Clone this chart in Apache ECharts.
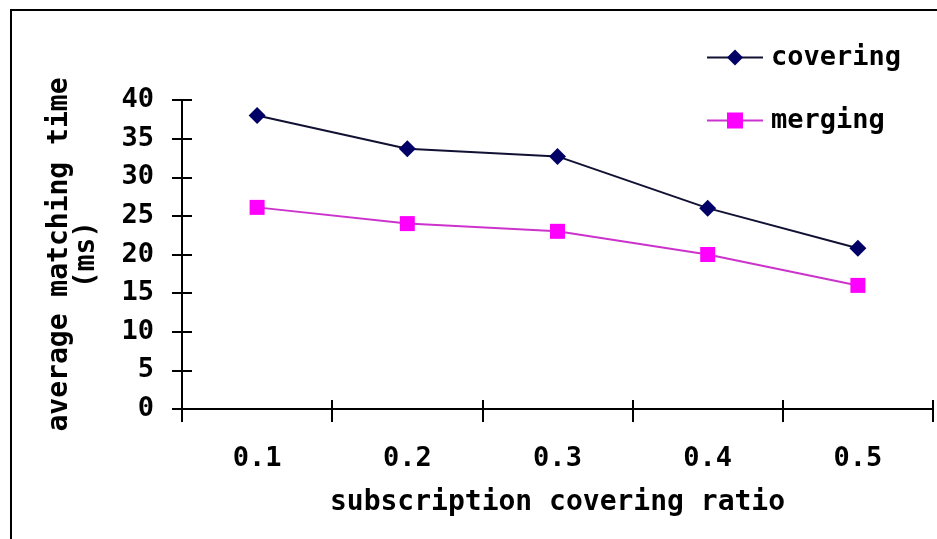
<!DOCTYPE html>
<html>
<head>
<meta charset="utf-8">
<script src="https://cdn.jsdelivr.net/npm/echarts@6/dist/echarts.min.js"></script>
<style>
  html, body { margin: 0; padding: 0; background: #fff; }
  #chart { width: 937px; height: 539px; }
</style>
</head>
<body>
<div id="chart"></div>
<script>
// Subscription covering ratio on the x axis
const categories = ['0.1', '0.2', '0.3', '0.4', '0.5'];
// Average matching time (ms) for each strategy
const coveringTimes = [38, 33.7, 32.7, 26, 20.8];
const mergingTimes = [26.1, 24, 23, 20, 16];
// Value axis range and step
const yMin = 0;
const yMax = 40;
const yStep = 5;

const FONT = 'DejaVu Sans Mono';
const textBase = { fontFamily: FONT, fontWeight: 'bold', color: '#000', fontSize: 27 };
const nameText = Object.assign({}, textBase, { fontSize: 28, lineHeight: 27 });

const GRID_W = 937 - 182 - 4;
const GRID_H = 539 - 100 - 130;

const chart = echarts.init(document.getElementById('chart'), null, { renderer: 'canvas' });

chart.setOption({
  backgroundColor: '#fff',
  animation: false,
  graphic: [{
    type: 'rect',
    z: -1,
    shape: { x: 11, y: 10, width: 960, height: 570 },
    style: { fill: 'none', stroke: '#000', lineWidth: 2 }
  }],
  grid: { left: 182, right: 4, top: 100, bottom: 130, containLabel: false },
  legend: {
    orient: 'vertical',
    left: 706,
    top: 44,
    padding: 0,
    itemWidth: 56,
    itemHeight: 20,
    itemGap: 36,
    textStyle: Object.assign({}, textBase, { lineHeight: 26, padding: [0, 0, 0, 3] }),
    data: ['covering', 'merging']
  },
  xAxis: [{
    type: 'category',
    data: categories,
    boundaryGap: true,
    name: 'subscription covering ratio',
    nameLocation: 'middle',
    nameGap: 80,
    nameTextStyle: nameText,
    axisLine: { lineStyle: { color: '#000', width: 2 } },
    axisTick: { show: true, inside: false, length: 13, lineStyle: { color: '#000', width: 2 } },
    axisLabel: Object.assign({}, textBase, { margin: 36 }),
    splitLine: { show: false }
  }, {
    // upper half of the crossing x ticks
    type: 'category',
    data: categories,
    boundaryGap: true,
    position: 'top',
    offset: -GRID_H,
    axisLine: { show: false },
    axisTick: { show: true, inside: false, length: 9, lineStyle: { color: '#000', width: 2 } },
    axisLabel: { show: false },
    splitLine: { show: false }
  }],
  yAxis: [{
    type: 'value',
    min: yMin,
    max: yMax,
    interval: yStep,
    name: 'average matching time\n(ms)',
    nameLocation: 'middle',
    nameGap: 82,
    nameTextStyle: nameText,
    axisLine: { show: true, lineStyle: { color: '#000', width: 2 } },
    axisTick: { show: true, inside: false, length: 10, lineStyle: { color: '#000', width: 2 } },
    axisLabel: Object.assign({}, textBase, { margin: 28 }),
    splitLine: { show: false }
  }, {
    // right half of the crossing y ticks
    type: 'value',
    min: yMin,
    max: yMax,
    interval: yStep,
    position: 'right',
    offset: -GRID_W,
    axisLine: { show: false },
    axisTick: { show: true, inside: false, length: 10, lineStyle: { color: '#000', width: 2 } },
    axisLabel: { show: false },
    splitLine: { show: false }
  }],
  series: [{
    name: 'covering',
    type: 'line',
    data: coveringTimes,
    symbol: 'diamond',
    symbolSize: 17,
    itemStyle: { color: '#000066' },
    lineStyle: { color: '#111133', width: 2 }
  }, {
    name: 'merging',
    type: 'line',
    data: mergingTimes,
    symbol: 'rect',
    symbolSize: 15,
    itemStyle: { color: '#ff00ff' },
    lineStyle: { color: '#cc33cc', width: 2 }
  }]
});
</script>
</body>
</html>
